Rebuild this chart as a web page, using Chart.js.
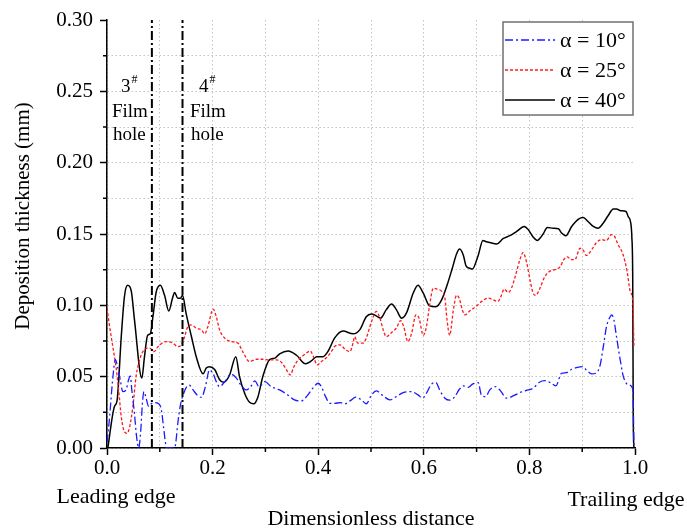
<!DOCTYPE html>
<html>
<head>
<meta charset="utf-8">
<script src="https://cdn.jsdelivr.net/npm/chart.js@4.4.0/dist/chart.umd.min.js"></script>
<style>
  html, body { margin: 0; padding: 0; background: #fff; }
</style>
</head>
<body>
<canvas id="chart" width="687" height="530"></canvas>
<script>
// data (x = dimensionless distance, y = thickness in mm)
const alpha10X = [0.0, 0.005, 0.010, 0.016, 0.020, 0.025, 0.030, 0.036, 0.041, 0.044, 0.047, 0.052, 0.056, 0.060, 0.064, 0.067, 0.070, 0.074, 0.079, 0.084, 0.090, 0.098, 0.103, 0.107, 0.111, 0.113, 0.128, 0.130, 0.134, 0.139, 0.145, 0.151, 0.156, 0.163, 0.171, 0.179, 0.187, 0.194, 0.201, 0.207, 0.213, 0.223, 0.235, 0.245, 0.254, 0.264, 0.273, 0.280, 0.288, 0.299, 0.311, 0.327, 0.343, 0.355, 0.368, 0.379, 0.390, 0.400, 0.406, 0.414, 0.422, 0.431, 0.442, 0.450, 0.461, 0.471, 0.482, 0.491, 0.501, 0.510, 0.523, 0.536, 0.548, 0.561, 0.577, 0.589, 0.598, 0.605, 0.615, 0.623, 0.630, 0.640, 0.649, 0.659, 0.667, 0.675, 0.684, 0.693, 0.703, 0.709, 0.717, 0.725, 0.735, 0.744, 0.757, 0.773, 0.785, 0.798, 0.807, 0.819, 0.829, 0.840, 0.850, 0.861, 0.870, 0.880, 0.889, 0.901, 0.908, 0.918, 0.926, 0.934, 0.940, 0.946, 0.953, 0.956, 0.960, 0.965, 0.972, 0.978, 0.988, 0.996, 0.998];
const alpha10Y = [0.004, 0.022, 0.045, 0.062, 0.057, 0.048, 0.0395, 0.0407, 0.048, 0.0505, 0.0407, 0.024, 0.008, 0.0, 0.0126, 0.031, 0.0395, 0.035, 0.029, 0.031, 0.0318, 0.031, 0.0267, 0.015, 0.003, 0.0, 0.0, 0.003, 0.017, 0.030, 0.038, 0.043, 0.044, 0.0407, 0.037, 0.0355, 0.044, 0.0547, 0.052, 0.0465, 0.043, 0.0465, 0.0517, 0.049, 0.044, 0.0407, 0.0435, 0.047, 0.043, 0.0465, 0.043, 0.0407, 0.037, 0.0337, 0.033, 0.0365, 0.042, 0.0454, 0.043, 0.036, 0.0313, 0.0313, 0.0318, 0.0309, 0.0332, 0.0356, 0.0337, 0.031, 0.0372, 0.040, 0.0365, 0.0337, 0.036, 0.0388, 0.0395, 0.0372, 0.0349, 0.0384, 0.0449, 0.0458, 0.0407, 0.0349, 0.0335, 0.036, 0.041, 0.0435, 0.0425, 0.0449, 0.0458, 0.0372, 0.036, 0.0407, 0.043, 0.0407, 0.0349, 0.0372, 0.0393, 0.0407, 0.0419, 0.0461, 0.0472, 0.0458, 0.0435, 0.0524, 0.0528, 0.0552, 0.0563, 0.057, 0.0547, 0.0519, 0.0524, 0.0582, 0.071, 0.0851, 0.092, 0.0933, 0.0898, 0.078, 0.0618, 0.050, 0.0442, 0.0412, 0.0];

const alpha25X = [0.0, 0.005, 0.011, 0.017, 0.022, 0.027, 0.033, 0.038, 0.043, 0.049, 0.055, 0.062, 0.071, 0.081, 0.089, 0.096, 0.106, 0.115, 0.125, 0.134, 0.141, 0.147, 0.153, 0.160, 0.169, 0.179, 0.185, 0.191, 0.201, 0.207, 0.213, 0.223, 0.235, 0.248, 0.257, 0.270, 0.283, 0.295, 0.308, 0.321, 0.332, 0.340, 0.347, 0.354, 0.362, 0.371, 0.379, 0.385, 0.391, 0.398, 0.406, 0.416, 0.425, 0.431, 0.441, 0.452, 0.460, 0.466, 0.469, 0.475, 0.485, 0.491, 0.501, 0.510, 0.517, 0.523, 0.529, 0.539, 0.548, 0.556, 0.562, 0.570, 0.577, 0.585, 0.591, 0.599, 0.605, 0.611, 0.618, 0.625, 0.634, 0.640, 0.644, 0.649, 0.656, 0.662, 0.667, 0.673, 0.678, 0.687, 0.700, 0.712, 0.722, 0.731, 0.740, 0.747, 0.752, 0.760, 0.766, 0.773, 0.782, 0.788, 0.795, 0.801, 0.807, 0.812, 0.820, 0.829, 0.839, 0.848, 0.858, 0.865, 0.872, 0.879, 0.886, 0.896, 0.902, 0.908, 0.918, 0.927, 0.937, 0.946, 0.955, 0.960, 0.968, 0.977, 0.985, 0.991, 0.996, 0.998];
const alpha25Y = [0.098, 0.085, 0.071, 0.057, 0.041, 0.022, 0.0114, 0.0103, 0.015, 0.029, 0.050, 0.062, 0.069, 0.070, 0.0676, 0.0707, 0.0739, 0.0746, 0.0735, 0.0711, 0.0723, 0.078, 0.085, 0.0863, 0.084, 0.0828, 0.080, 0.085, 0.0973, 0.092, 0.083, 0.077, 0.0746, 0.0735, 0.0676, 0.0606, 0.0622, 0.0622, 0.0618, 0.0618, 0.0594, 0.0547, 0.0512, 0.057, 0.0618, 0.0646, 0.0669, 0.068, 0.064, 0.0582, 0.0606, 0.0634, 0.0676, 0.0711, 0.0723, 0.0688, 0.0676, 0.0735, 0.078, 0.0735, 0.0735, 0.077, 0.0886, 0.0957, 0.091, 0.083, 0.078, 0.081, 0.084, 0.0893, 0.085, 0.0746, 0.0805, 0.0933, 0.091, 0.079, 0.085, 0.100, 0.112, 0.1114, 0.1097, 0.105, 0.0898, 0.079, 0.0968, 0.107, 0.105, 0.0968, 0.0933, 0.096, 0.0996, 0.1034, 0.105, 0.104, 0.1027, 0.107, 0.1114, 0.109, 0.112, 0.120, 0.132, 0.137, 0.1296, 0.118, 0.1086, 0.107, 0.112, 0.120, 0.124, 0.125, 0.127, 0.132, 0.134, 0.132, 0.132, 0.140, 0.1385, 0.135, 0.139, 0.144, 0.146, 0.1455, 0.1495, 0.149, 0.1425, 0.136, 0.124, 0.1097, 0.1015, 0.071];

const alpha40X = [0.0015, 0.014, 0.019, 0.027, 0.033, 0.039, 0.046, 0.052, 0.066, 0.071, 0.077, 0.082, 0.087, 0.093, 0.101, 0.109, 0.117, 0.124, 0.128, 0.134, 0.139, 0.143, 0.150, 0.160, 0.169, 0.182, 0.188, 0.194, 0.204, 0.213, 0.221, 0.232, 0.244, 0.251, 0.261, 0.270, 0.278, 0.286, 0.295, 0.308, 0.318, 0.327, 0.343, 0.359, 0.376, 0.387, 0.397, 0.409, 0.419, 0.431, 0.447, 0.466, 0.479, 0.491, 0.501, 0.510, 0.518, 0.529, 0.539, 0.548, 0.558, 0.567, 0.580, 0.589, 0.599, 0.611, 0.623, 0.634, 0.644, 0.654, 0.662, 0.668, 0.675, 0.680, 0.687, 0.692, 0.703, 0.712, 0.717, 0.725, 0.738, 0.750, 0.763, 0.776, 0.790, 0.798, 0.807, 0.815, 0.820, 0.826, 0.834, 0.845, 0.855, 0.861, 0.869, 0.880, 0.893, 0.902, 0.911, 0.921, 0.930, 0.940, 0.949, 0.959, 0.965, 0.973, 0.983, 0.987, 0.992, 0.994, 0.9957, 0.9967, 0.998];
const alpha40Y = [0.0, 0.029, 0.033, 0.078, 0.106, 0.114, 0.110, 0.090, 0.049, 0.064, 0.079, 0.080, 0.092, 0.109, 0.114, 0.107, 0.096, 0.105, 0.109, 0.105, 0.105, 0.107, 0.094, 0.078, 0.064, 0.052, 0.056, 0.057, 0.055, 0.048, 0.046, 0.051, 0.064, 0.050, 0.038, 0.032, 0.031, 0.036, 0.050, 0.062, 0.063, 0.066, 0.068, 0.065, 0.059, 0.061, 0.064, 0.064, 0.068, 0.077, 0.082, 0.080, 0.083, 0.092, 0.094, 0.0926, 0.091, 0.097, 0.101, 0.097, 0.091, 0.0945, 0.1086, 0.114, 0.1086, 0.0996, 0.099, 0.104, 0.114, 0.126, 0.136, 0.1394, 0.135, 0.1277, 0.126, 0.1254, 0.135, 0.1455, 0.1448, 0.144, 0.143, 0.1467, 0.1488, 0.1518, 0.1553, 0.153, 0.1479, 0.1455, 0.147, 0.150, 0.1546, 0.154, 0.1537, 0.1507, 0.1488, 0.1553, 0.1605, 0.1616, 0.1588, 0.1553, 0.154, 0.1577, 0.1628, 0.1675, 0.1675, 0.1663, 0.1658, 0.1623, 0.1577, 0.148, 0.118, 0.02, 0.0];

// film hole positions (dash-dot markers)
const holeX = [0.085, 0.143];
const holeNames = ['3', '4'];
const seriesLabels = ['\u03b1 = 10\u00b0', '\u03b1 = 25\u00b0', '\u03b1 = 40\u00b0'];

const serif = '"Liberation Serif", "Times New Roman", serif';
const toPoints = (xs, ys) => xs.map((x, i) => ({ x: x, y: ys[i] }));

const isMajorX = v => Math.abs(v * 10 - 2 * Math.round(v * 5)) < 1e-6;
const isMajorY = v => Math.abs(v * 40 - 2 * Math.round(v * 20)) < 1e-6;

const styles = [
    { color: '#1a1aff', dash: [8, 3, 2, 3], width: 1.3 },
    { color: '#ff1a1a', dash: [3, 2], width: 1.3 },
    { color: '#000000', dash: [], width: 1.5 }
];

// minor tick marks (shorter than majors)
const minorTicks = {
    id: 'minorTicks',
    afterDraw(chart) {
        const { ctx, chartArea, scales: { x, y } } = chart;
        ctx.save();
        ctx.strokeStyle = '#000';
        ctx.lineWidth = 1.5;
        ctx.beginPath();
        x.ticks.forEach(t => {
            if (isMajorX(t.value)) return;
            const px = x.getPixelForValue(t.value);
            ctx.moveTo(px, chartArea.bottom);
            ctx.lineTo(px, chartArea.bottom + 4);
        });
        y.ticks.forEach(t => {
            if (isMajorY(t.value)) return;
            const py = y.getPixelForValue(t.value);
            ctx.moveTo(chartArea.left, py);
            ctx.lineTo(chartArea.left - 4, py);
        });
        ctx.stroke();
        ctx.restore();
    }
};

// y title, film hole notes, edge labels and the boxed legend
const notes = {
    id: 'notes',
    afterDraw(chart) {
        const { ctx, chartArea, scales: { x } } = chart;
        ctx.save();
        ctx.fillStyle = '#000';

        // y axis title (sits a bit above the axis centre in the original)
        ctx.save();
        ctx.translate(23, 216);
        ctx.rotate(-Math.PI / 2);
        ctx.font = '21px ' + serif;
        ctx.textAlign = 'center';
        ctx.textBaseline = 'middle';
        ctx.fillText('Deposition thickness (mm)', 0, 0);
        ctx.restore();

        ctx.textBaseline = 'alphabetic';
        const noteLeft = [chartArea.left + 5, chartArea.left + 83];
        holeNames.forEach((n, i) => {
            const l = noteLeft[i];
            ctx.font = '19px ' + serif;
            ctx.textAlign = 'left';
            ctx.fillText(n, l + 9, 92);
            const w = ctx.measureText(n).width;
            ctx.font = '12px ' + serif;
            ctx.fillText('#', l + 9 + w + 1, 83);
            ctx.font = '19px ' + serif;
            ctx.fillText('Film', l, 117);
            ctx.fillText('hole', l + 1, 140);
        });

        ctx.font = '22px ' + serif;
        ctx.textAlign = 'center';
        ctx.fillText('Leading edge', x.getPixelForValue(0) + 9, 503);
        ctx.fillText('Trailing edge', x.getPixelForValue(1) - 9, 506);

        // legend box
        const bx = chartArea.right - 132, by = chartArea.top + 2, bw = 130, bh = 93;
        ctx.fillStyle = '#fff';
        ctx.fillRect(bx, by, bw, bh);
        ctx.strokeStyle = '#707070';
        ctx.lineWidth = 1.5;
        ctx.strokeRect(bx, by, bw, bh);
        seriesLabels.forEach((lab, i) => {
            const ly = by + 18 + i * 30;
            const s = styles[i];
            ctx.beginPath();
            ctx.strokeStyle = s.color;
            ctx.lineWidth = s.width;
            ctx.setLineDash(s.dash);
            ctx.moveTo(bx + 2, ly);
            ctx.lineTo(bx + 52, ly);
            ctx.stroke();
            ctx.setLineDash([]);
            ctx.fillStyle = '#000';
            ctx.font = '22px ' + serif;
            ctx.textAlign = 'left';
            ctx.textBaseline = 'middle';
            ctx.fillText(lab, bx + 57, ly + 1);
        });
        ctx.restore();
    }
};

const holeSets = holeX.map(hx => ({
    label: 'hole',
    data: [{ x: hx, y: 0 }, { x: hx, y: 0.30 }],
    borderColor: '#000',
    borderWidth: 2,
    borderDash: [9, 3, 2, 3],
    pointRadius: 0,
    tension: 0
}));

const lineSets = [[alpha10X, alpha10Y], [alpha25X, alpha25Y], [alpha40X, alpha40Y]].map((d, i) => ({
    label: seriesLabels[i],
    data: toPoints(d[0], d[1]),
    borderColor: styles[i].color,
    borderWidth: styles[i].width,
    borderDash: styles[i].dash,
    pointRadius: 0,
    cubicInterpolationMode: 'monotone'
}));

const gridColor = (ctx, edge) => {
    const v = ctx.tick ? ctx.tick.value : null;
    if (v === null || Math.abs(v - edge) < 1e-6) return 'rgba(0,0,0,0)';
    return '#c4c4c4';
};

new Chart(document.getElementById('chart'), {
    type: 'line',
    data: { datasets: [...holeSets, ...lineSets] },
    options: {
        responsive: false,
        animation: false,
        layout: { padding: { top: 20, right: 52, left: 0, bottom: 0 } },
        plugins: { legend: { display: false }, tooltip: { enabled: false } },
        scales: {
            x: {
                type: 'linear',
                min: 0,
                max: 1,
                afterFit: s => { s.height = 82; },
                ticks: {
                    stepSize: 0.1,
                    autoSkip: false,
                    maxRotation: 0,
                    padding: 1,
                    color: '#000',
                    font: { family: serif, size: 21 },
                    callback: v => isMajorX(v) ? v.toFixed(1) : ''
                },
                grid: {
                    color: ctx => gridColor(ctx, 1),
                    lineWidth: 1,
                    tickLength: 7,
                    tickWidth: 1.5,
                    tickColor: ctx => (ctx.tick && isMajorX(ctx.tick.value)) ? '#000' : 'rgba(0,0,0,0)'
                },
                border: { display: true, color: '#000', width: 1.5, dash: [1.5, 2.5] },
                title: {
                    display: true,
                    text: 'Dimensionless distance',
                    color: '#000',
                    font: { family: serif, size: 22, lineHeight: 1 },
                    padding: { top: 0, bottom: 0 }
                }
            },
            y: {
                type: 'linear',
                min: 0,
                max: 0.30,
                afterFit: s => { s.width = 107; },
                ticks: {
                    stepSize: 0.025,
                    autoSkip: false,
                    padding: 7,
                    color: '#000',
                    font: { family: serif, size: 21 },
                    callback: v => isMajorY(v) ? v.toFixed(2) : ''
                },
                grid: {
                    color: ctx => gridColor(ctx, 0.30),
                    lineWidth: 1,
                    tickLength: 7,
                    tickWidth: 1.5,
                    tickColor: ctx => (ctx.tick && isMajorY(ctx.tick.value)) ? '#000' : 'rgba(0,0,0,0)'
                },
                border: { display: true, color: '#000', width: 1.5, dash: [1.5, 2.5] }
            }
        }
    },
    plugins: [minorTicks, notes]
});
</script>
</body>
</html>
